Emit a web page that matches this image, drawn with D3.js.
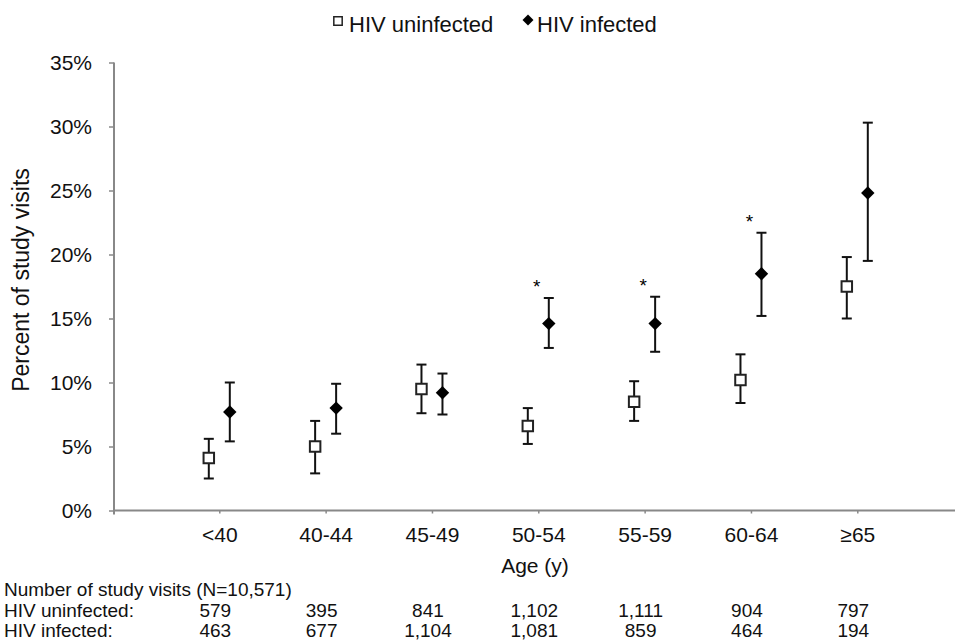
<!DOCTYPE html>
<html lang="en">
<head>
    <meta charset="UTF-8">
    <title>Percent of study visits by age</title>
    <script src="https://d3js.org/d3.v7.min.js"></script>
    <style>
        body {
            margin: 0;
            background-color: #ffffff;
        }
        svg {
            display: block;
            font-family: "Liberation Sans", Arial, sans-serif;
        }
    </style>
</head>
<body>
<svg width="955" height="642"></svg>

<script>
    // Data
    const ages = ["<40", "40-44", "45-49", "50-54", "55-59", "60-64", "\u226565"];

    const uninfPct  = [4.1, 5.0, 9.5, 6.6, 8.5, 10.2, 17.5];
    const uninfLow  = [2.5, 2.9, 7.6, 5.2, 7.0, 8.4, 15.0];
    const uninfHigh = [5.6, 7.0, 11.4, 8.0, 10.1, 12.2, 19.8];

    const infPct  = [7.7, 8.0, 9.2, 14.6, 14.6, 18.5, 24.8];
    const infLow  = [5.4, 6.0, 7.5, 12.7, 12.4, 15.2, 19.5];
    const infHigh = [10.0, 9.9, 10.7, 16.6, 16.7, 21.7, 30.3];

    const significant = [false, false, false, true, true, true, false];

    const uninfN = ["579", "395", "841", "1,102", "1,111", "904", "797"];
    const infN   = ["463", "677", "1,104", "1,081", "859", "464", "194"];

    const yTicks = [0, 5, 10, 15, 20, 25, 30, 35];

    const svgWidth = 955;
    const svgHeight = 642;
    const axisX = 114;      // y axis position
    const plotTop = 62.5;
    const plotBottom = 510.5;
    const offset = 10.5;    // side-by-side offset of the two series

    const svg = d3.select("svg");

    const xScale = d3.scalePoint()
        .domain(ages)
        .range([219.3, 857.3]);

    const yScale = d3.scaleLinear()
        .domain([0, 35])
        .range([plotBottom, plotTop]);

    // Y axis
    const yAxis = svg.append("g")
        .attr("transform", `translate(${axisX},0)`)
        .call(d3.axisLeft(yScale)
            .tickValues(yTicks)
            .tickFormat(d => d + "%")
            .tickSize(5)
            .tickSizeOuter(0)
            .tickPadding(17));
    yAxis.select(".domain").remove();
    yAxis.selectAll("line").attr("stroke", "#888").attr("stroke-width", 1.5);
    yAxis.selectAll("text")
        .attr("font-size", 21)
        .attr("font-family", "Liberation Sans, Arial, sans-serif")
        .attr("fill", "#111");

    svg.append("line")
        .attr("x1", axisX).attr("x2", axisX)
        .attr("y1", yScale(35)).attr("y2", yScale(0) + 4)
        .attr("stroke", "#888").attr("stroke-width", 2);

    // X axis
    const xAxis = svg.append("g")
        .attr("transform", `translate(0,${plotBottom})`)
        .call(d3.axisBottom(xScale)
            .tickSize(3)
            .tickSizeOuter(0)
            .tickPadding(13.5));
    xAxis.select(".domain").remove();
    xAxis.selectAll("line").attr("stroke", "#888").attr("stroke-width", 1.5);
    xAxis.selectAll("text")
        .attr("font-size", 21)
        .attr("font-family", "Liberation Sans, Arial, sans-serif")
        .attr("fill", "#111");

    svg.append("line")
        .attr("x1", axisX).attr("x2", svgWidth)
        .attr("y1", plotBottom).attr("y2", plotBottom)
        .attr("stroke", "#888").attr("stroke-width", 2);

    // Axis titles
    svg.append("text")
        .attr("x", 535)
        .attr("y", 573)
        .attr("text-anchor", "middle")
        .attr("font-size", 21)
        .attr("fill", "#111")
        .text("Age (y)");

    svg.append("text")
        .attr("transform", "translate(29,280) rotate(-90)")
        .attr("text-anchor", "middle")
        .attr("font-size", 23)
        .attr("fill", "#111")
        .text("Percent of study visits");

    // Error bars
    function drawErrorBars(low, high, dx) {
        const g = svg.append("g");
        g.selectAll("line.stem")
            .data(ages)
            .enter().append("line")
            .attr("class", "stem")
            .attr("x1", d => xScale(d) + dx)
            .attr("x2", d => xScale(d) + dx)
            .attr("y1", (d, i) => yScale(low[i]))
            .attr("y2", (d, i) => yScale(high[i]))
            .attr("stroke", "#111").attr("stroke-width", 2);
        [low, high].forEach(arr => {
            g.selectAll(null)
                .data(ages)
                .enter().append("line")
                .attr("x1", d => xScale(d) + dx - 5)
                .attr("x2", d => xScale(d) + dx + 5)
                .attr("y1", (d, i) => yScale(arr[i]))
                .attr("y2", (d, i) => yScale(arr[i]))
                .attr("stroke", "#111").attr("stroke-width", 2);
        });
    }
    drawErrorBars(uninfLow, uninfHigh, -offset);
    drawErrorBars(infLow, infHigh, offset);

    // Markers
    const square = d3.symbol().type(d3.symbolSquare).size(110);
    const diamond = d3.symbol().type(d3.symbolSquare).size(90);

    svg.append("g").selectAll("path")
        .data(ages)
        .enter().append("path")
        .attr("d", square)
        .attr("transform", (d, i) => `translate(${xScale(d) - offset},${yScale(uninfPct[i])})`)
        .attr("fill", "#fff")
        .attr("stroke", "#222")
        .attr("stroke-width", 2);

    svg.append("g").selectAll("path")
        .data(ages)
        .enter().append("path")
        .attr("d", diamond)
        .attr("transform", (d, i) => `translate(${xScale(d) + offset},${yScale(infPct[i])}) rotate(45)`)
        .attr("fill", "#000");

    // Significance asterisks
    svg.append("g").selectAll("text")
        .data(ages.filter((d, i) => significant[i]))
        .enter().append("text")
        .attr("x", d => xScale(d) + offset - 12)
        .attr("y", d => yScale(infHigh[ages.indexOf(d)]) - 5)
        .attr("text-anchor", "middle")
        .attr("font-size", 19)
        .attr("fill", "#000")
        .text("*");

    // Legend
    const legend = svg.append("g");
    legend.append("path")
        .attr("d", d3.symbol().type(d3.symbolSquare).size(70))
        .attr("transform", "translate(338,21)")
        .attr("fill", "#fff").attr("stroke", "#222").attr("stroke-width", 1.5);
    legend.append("text")
        .attr("x", 349).attr("y", 32)
        .attr("font-size", 22).attr("fill", "#111")
        .text("HIV uninfected");
    legend.append("path")
        .attr("d", d3.symbol().type(d3.symbolSquare).size(60))
        .attr("transform", "translate(528,20) rotate(45)")
        .attr("fill", "#000");
    legend.append("text")
        .attr("x", 537).attr("y", 32)
        .attr("font-size", 22).attr("fill", "#111")
        .text("HIV infected");

    // Table of visit counts
    const table = svg.append("g")
        .attr("font-size", 19)
        .attr("fill", "#111");
    table.append("text").attr("x", 4).attr("y", 596)
        .text("Number of study visits (N=10,571)");
    table.append("text").attr("x", 4).attr("y", 617)
        .text("HIV uninfected:");
    table.append("text").attr("x", 4).attr("y", 637)
        .text("HIV infected:");

    table.selectAll("text.un")
        .data(ages)
        .enter().append("text")
        .attr("class", "un")
        .attr("x", d => xScale(d) - 4)
        .attr("y", 617)
        .attr("text-anchor", "middle")
        .text((d, i) => uninfN[i]);

    table.selectAll("text.in")
        .data(ages)
        .enter().append("text")
        .attr("class", "in")
        .attr("x", d => xScale(d) - 4)
        .attr("y", 637)
        .attr("text-anchor", "middle")
        .text((d, i) => infN[i]);
</script>
</body>
</html>
